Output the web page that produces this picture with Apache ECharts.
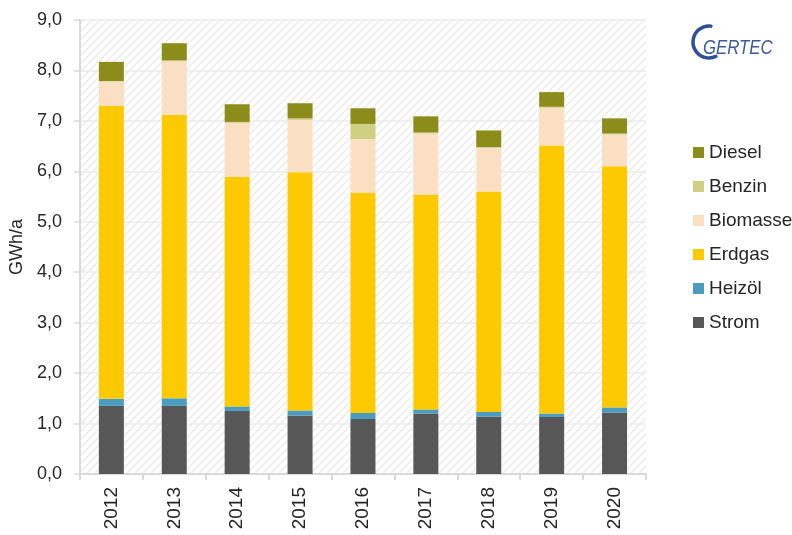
<!DOCTYPE html>
<html>
<head>
<meta charset="utf-8">
<script src="https://cdn.jsdelivr.net/npm/echarts@6/dist/echarts.min.js"></script>
<style>
  html, body { margin: 0; padding: 0; background: #ffffff; }
  #chart { width: 792px; height: 535px; }
</style>
</head>
<body>
<div id="chart"></div>
<script>
// Energy consumption by carrier, GWh per year
const years = ['2012', '2013', '2014', '2015', '2016', '2017', '2018', '2019', '2020'];
const strom    = [1.35, 1.35, 1.25, 1.16, 1.09, 1.20, 1.14, 1.13, 1.22];
const heizoel  = [0.14, 0.15, 0.09, 0.10, 0.12, 0.08, 0.09, 0.07, 0.10];
const erdgas   = [5.81, 5.62, 4.55, 4.72, 4.37, 4.26, 4.37, 5.31, 4.78];
const biomasse = [0.48, 1.06, 1.07, 1.04, 1.06, 1.21, 0.87, 0.75, 0.63];
const benzin   = [0.01, 0.02, 0.02, 0.03, 0.30, 0.02, 0.01, 0.02, 0.02];
const diesel   = [0.38, 0.34, 0.35, 0.30, 0.31, 0.32, 0.33, 0.29, 0.30];
const yTicks = [0, 1, 2, 3, 4, 5, 6, 7, 8, 9];

// light diagonal hatching for the plot background
const hatch = document.createElement('canvas');
hatch.width = 8; hatch.height = 8;
const hc = hatch.getContext('2d');
hc.fillStyle = '#ffffff';
hc.fillRect(0, 0, 8, 8);
hc.strokeStyle = '#eeeeee';
hc.lineWidth = 1.6;
hc.beginPath();
hc.moveTo(-1, 9); hc.lineTo(9, -1);
hc.moveTo(-1, 1); hc.lineTo(1, -1);
hc.moveTo(7, 9); hc.lineTo(9, 7);
hc.stroke();

const font = '"Liberation Sans", Arial, sans-serif';

const seriesDefs = [
  { name: 'Strom',    data: strom,    color: '#575757' },
  { name: 'Heizöl',   data: heizoel,  color: '#4a9dbf' },
  { name: 'Erdgas',   data: erdgas,   color: '#fdca02' },
  { name: 'Biomasse', data: biomasse, color: '#fadfc3' },
  { name: 'Benzin',   data: benzin,   color: '#cfd083' },
  { name: 'Diesel',   data: diesel,   color: '#8c8c1b' }
];

const chart = echarts.init(document.getElementById('chart'), null, { renderer: 'canvas' });

chart.setOption({
  animation: false,
  backgroundColor: '#ffffff',
  grid: {
    left: 79, right: 146, top: 20, bottom: 61,
    show: true,
    borderWidth: 0,
    backgroundColor: { image: hatch, repeat: 'repeat' }
  },
  legend: {
    orient: 'vertical',
    left: 688,
    top: 137,
    itemWidth: 11,
    itemHeight: 11,
    itemGap: 13,
    icon: 'rect',
    data: ['Diesel', 'Benzin', 'Biomasse', 'Erdgas', 'Heizöl', 'Strom'],
    textStyle: { fontFamily: font, fontSize: 19, color: '#262626', lineHeight: 21 }
  },
  xAxis: {
    type: 'category',
    data: years,
    axisLine: { lineStyle: { color: '#d9d9d9', width: 2 } },
    axisTick: { show: true, length: 6, lineStyle: { color: '#d9d9d9', width: 2 } },
    axisLabel: {
      rotate: 90,
      margin: 13,
      fontFamily: font,
      fontSize: 19,
      color: '#262626'
    }
  },
  yAxis: {
    type: 'value',
    min: yTicks[0],
    max: yTicks[yTicks.length - 1],
    interval: 1,
    name: 'GWh/a',
    nameLocation: 'middle',
    nameGap: 53,
    nameTextStyle: { fontFamily: font, fontSize: 18, color: '#262626' },
    axisLine: { show: true, lineStyle: { color: '#d9d9d9', width: 2 } },
    axisTick: { show: true, length: 6, lineStyle: { color: '#d9d9d9', width: 1.5 } },
    splitLine: { show: true, lineStyle: { color: '#ebebeb', width: 1.5 } },
    axisLabel: {
      margin: 18,
      fontFamily: font,
      fontSize: 18,
      color: '#262626',
      formatter: v => v.toFixed(1).replace('.', ',')
    }
  },
  series: seriesDefs.map(s => ({
    name: s.name,
    type: 'bar',
    stack: 'total',
    barWidth: 25,
    data: s.data,
    itemStyle: { color: s.color },
    emphasis: { disabled: true }
  })),
  graphic: [
    {
      type: 'arc',
      shape: { cx: 709, cy: 42, r: 16, startAngle: -Math.PI / 2 + 0.12, endAngle: Math.PI / 2 - 0.45, clockwise: false },
      style: { fill: null, stroke: '#2f4f95', lineWidth: 3.5, lineCap: 'round' }
    },
    {
      type: 'text',
      x: 703,
      y: 38,
      scaleX: 0.84,
      style: {
        text: 'GERTEC',
        fontFamily: font,
        fontStyle: 'italic',
        fontSize: 20,
        fill: '#3a5a9c'
      }
    }
  ]
});
</script>
</body>
</html>
